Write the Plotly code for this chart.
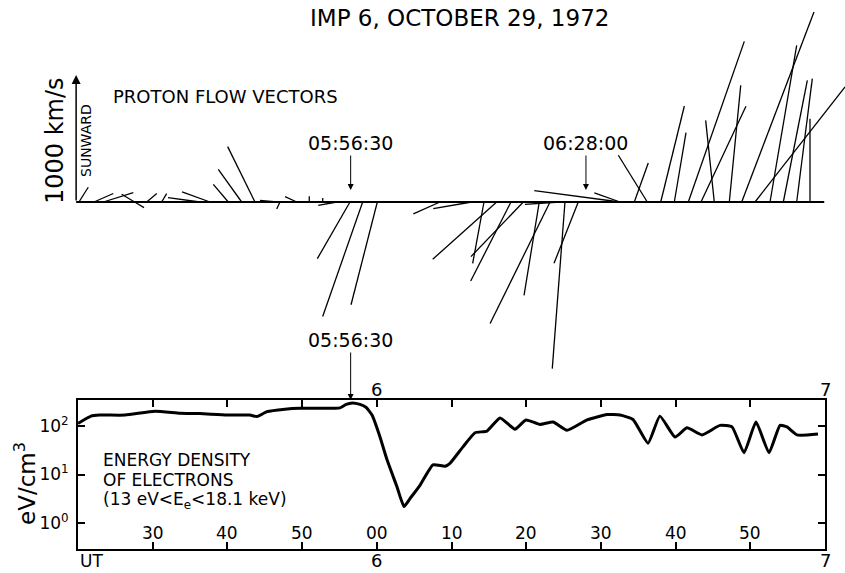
import plotly.graph_objects as go

W, H = 845, 573
FONT = "DejaVu Sans"

# ---------------- data ----------------
# Proton flow vectors: base time (minutes after 05:00 UT),
# horizontal component (km/s, + = right), vertical component (km/s, + = sunward)
vec_time = [20.13, 22.14, 23.39, 27.58, 27.58, 29.20, 31.20, 36.33, 37.67, 40.12,
            41.91, 43.69, 46.64, 47.04, 49.28, 50.96, 52.76, 54.63, 56.41, 58.11,
            60.07, 68.46, 72.70, 76.05, 74.35, 79.61, 77.96, 81.75, 83.19, 85.19,
            86.97, 84.52, 92.56, 92.56, 96.21, 94.47, 98.01, 99.83, 101.70, 105.18,
            103.40, 107.19, 108.85, 112.64, 110.63, 114.42, 116.21, 117.99]
vec_vx = [73, 152, 236, -102, 74, 79, 39, -252, -220, -118,
          -184, -215, -134, -26, -92, 0, 0, -145, -257, -315,
          -207, -210, -302, -504, -89, -412, -317, -120, -472, -100,
          -191, -276, -675, -202, -228, 110, 186, 92, 441, -68,
          354, 90, 569, 210, 709, 189, 123, 0]
vec_vz = [116, 67, 74, 61, -44, 66, 66, 35, 79, 139,
          257, 436, 12, -55, 42, 45, 31, -27, -446, -901,
          -809, -94, -53, -451, -483, -430, -622, -735, -957, -1312,
          -483, -18, 89, 71, 368, 307, 756, 546, 1265, 643,
          754, 919, 1496, 1234, 906, 958, 971, 656]

# Electron energy density (eV/cm^3) vs time (minutes after 05:00 UT)
ed_time = [20.0, 21.74, 22.9, 26.3, 30.3, 33.65, 36.3, 39.95, 43.0, 43.96,
           45.3, 47.7, 49.7, 52.4, 55.07, 55.9, 56.7, 57.75, 58.55, 59.36,
           60.43, 61.37, 62.7, 63.64, 64.44, 65.78, 67.52, 69.13, 69.8, 71.54,
           73.15, 74.75, 76.5, 78.5, 79.97, 81.85, 83.6, 85.46, 88.14, 90.82,
           92.56, 94.3, 96.31, 97.9, 99.92, 101.53, 103.53, 105.94, 107.55, 109.16,
           110.76, 112.5, 113.98, 114.9, 116.25, 119.06]
ed_value = [112, 158, 166, 166, 200, 182, 178, 166, 166, 155,
            195, 219, 229, 229, 234, 275, 295, 275, 240, 166,
            59, 20, 5.6, 2.2, 3.2, 6.0, 15.8, 14.8, 17, 37,
            72, 78, 145, 85, 132, 107, 120, 81, 132, 170,
            166, 135, 44, 158, 59, 91, 65, 102, 95, 28,
            120, 28, 102, 95, 65, 68]

time_tickvals = [30, 40, 50, 60, 70, 80, 90, 100, 110]
time_ticktext = ["30", "40", "50", "00", "10", "20", "30", "40", "50"]
hour_tickvals = [60, 120]
hour_ticktext = ["6", "7"]
ed_tickvals = [1, 10, 100]
ed_ticktext = ["10<sup>0</sup>", "10<sup>1</sup>", "10<sup>2</sup>"]
events_top = [("05:56:30", 56.5), ("06:28:00", 88.0)]
event_bottom = ("05:56:30", 56.5)

# ---------------- geometry helpers ----------------
PX_PER_MIN = 7.47
PX_PER_1000KMS = 127.0
def px(x):
    return x / W
def py(y):
    return 1 - y / H

T_START, T_END = 20.0, 120.0
top_x0_px, top_x1_px = 75, 845
top_range_x = [T_START - (78 - top_x0_px) / PX_PER_MIN,
               T_START - (78 - top_x0_px) / PX_PER_MIN + (top_x1_px - top_x0_px) / PX_PER_MIN]
top_y0_px, top_y1_px, base_px = 0, 380, 202
kms_per_px = 1000.0 / PX_PER_1000KMS
top_range_y = [-(top_y1_px - base_px) * kms_per_px, (base_px - top_y0_px) * kms_per_px]

fig = go.Figure()

# vectors
xs, ys = [], []
for t, vx, vz in zip(vec_time, vec_vx, vec_vz):
    dx = vx * PX_PER_1000KMS / 1000.0 / PX_PER_MIN
    xs += [t, t + dx, None]
    ys += [0, vz, None]
fig.add_trace(go.Scatter(x=xs, y=ys, mode="lines", line=dict(color="black", width=1.3),
                         xaxis="x2", yaxis="y2", hoverinfo="skip", showlegend=False))
# baseline (time axis of vector panel)
fig.add_trace(go.Scatter(x=[T_START - 0.25, T_END - 0.1], y=[0, 0], mode="lines",
                         line=dict(color="black", width=2), xaxis="x2", yaxis="y2",
                         hoverinfo="skip", showlegend=False))

# energy density curve
fig.add_trace(go.Scatter(x=ed_time, y=ed_value, mode="lines",
                         line=dict(color="black", width=3, shape="spline", smoothing=0.45),
                         xaxis="x", yaxis="y", showlegend=False))

axis_font = dict(family=FONT, size=17, color="black")
fig.update_layout(
    width=W, height=H, margin=dict(l=0, r=0, t=0, b=0),
    paper_bgcolor="white", plot_bgcolor="rgba(0,0,0,0)",
    font=dict(family=FONT, color="black"),
    xaxis=dict(domain=[px(78), px(825)], range=[T_START, T_END], anchor="y",
               showgrid=False, zeroline=False, showline=True, linecolor="black", linewidth=2,
               mirror="ticks", ticks="inside", ticklen=7, tickwidth=1.5, tickcolor="black",
               tickvals=time_tickvals, showticklabels=False),
    yaxis=dict(domain=[py(549), py(400)], type="log", range=[-0.53, 2.53], anchor="x",
               showgrid=False, zeroline=False, showline=True, linecolor="black", linewidth=2,
               mirror="ticks", ticks="inside", ticklen=7, tickwidth=1.5, tickcolor="black",
               tickvals=ed_tickvals, ticktext=ed_ticktext, tickfont=axis_font,
               ticklabelstandoff=4),
    xaxis2=dict(domain=[px(top_x0_px), px(top_x1_px)], range=top_range_x, anchor="y2",
                visible=False),
    yaxis2=dict(domain=[py(top_y1_px), py(top_y0_px)], range=top_range_y, anchor="x2",
                visible=False),
)

ann = []
def txt(x, y, s, size, xanchor="center", angle=0, yanchor="middle"):
    ann.append(dict(x=px(x), y=py(y), xref="paper", yref="paper", text=s, showarrow=False,
                    xanchor=xanchor, yanchor=yanchor, textangle=angle,
                    font=dict(family=FONT, size=size, color="black")))

txt(459, 18, "IMP 6, OCTOBER 29, 1972", 23)
txt(111, 97, "PROTON FLOW VECTORS", 18, xanchor="left")
txt(55, 141, "1000 km/s", 24, angle=-90)
txt(86, 141, "SUNWARD", 14, angle=-90)
txt(101, 460, "ENERGY DENSITY", 17, xanchor="left")
txt(101, 480, "OF ELECTRONS", 17, xanchor="left")
txt(101, 500, "(13 eV<E<sub>e</sub><18.1 keV)", 17, xanchor="left")
txt(25, 484, "eV/cm<sup>3</sup>", 23, angle=-90)
txt(78, 573, "UT", 17, xanchor="left", yanchor="bottom")

# minute labels inside the energy panel
for v, s in zip(time_tickvals, time_ticktext):
    ann.append(dict(x=v, y=py(533), xref="x", yref="paper", text=s, showarrow=False,
                    xanchor="center", yanchor="middle", font=axis_font))

# hour labels above and below the energy panel
for v, s in zip(hour_tickvals, hour_ticktext):
    ann.append(dict(x=v, y=py(389), xref="x", yref="paper", text=s, showarrow=False,
                    xanchor="center", yanchor="middle",
                    font=dict(family=FONT, size=18, color="black")))
    ann.append(dict(x=v, y=py(573), xref="x", yref="paper", text=s, showarrow=False,
                    xanchor="center", yanchor="bottom",
                    font=dict(family=FONT, size=18, color="black")))

# vertical velocity scale arrow (0 -> 1000 km/s)
ann.append(dict(x=T_START - 0.25, y=1000, xref="x2", yref="y2", ax=T_START - 0.25, ay=0,
                axref="x2", ayref="y2", text="", showarrow=True, arrowhead=2,
                arrowsize=1.2, arrowwidth=1.5, arrowcolor="black"))

# event markers in vector panel
for s, t in events_top:
    ann.append(dict(x=t, y=12 * kms_per_px, xref="x2", yref="y2", text=s, showarrow=True,
                    ax=0, ay=-47, arrowhead=2, arrowsize=1.2, arrowwidth=1,
                    arrowcolor="black", standoff=0,
                    font=dict(family=FONT, size=19, color="black")))
# event marker on energy panel
ann.append(dict(x=event_bottom[1], y=2.53, xref="x", yref="y", text=event_bottom[0],
                showarrow=True, ax=0, ay=-60, arrowhead=2, arrowsize=1.2, arrowwidth=1,
                arrowcolor="black", standoff=0,
                font=dict(family=FONT, size=19, color="black")))

fig.update_layout(annotations=ann)
fig.write_html("out.html")
